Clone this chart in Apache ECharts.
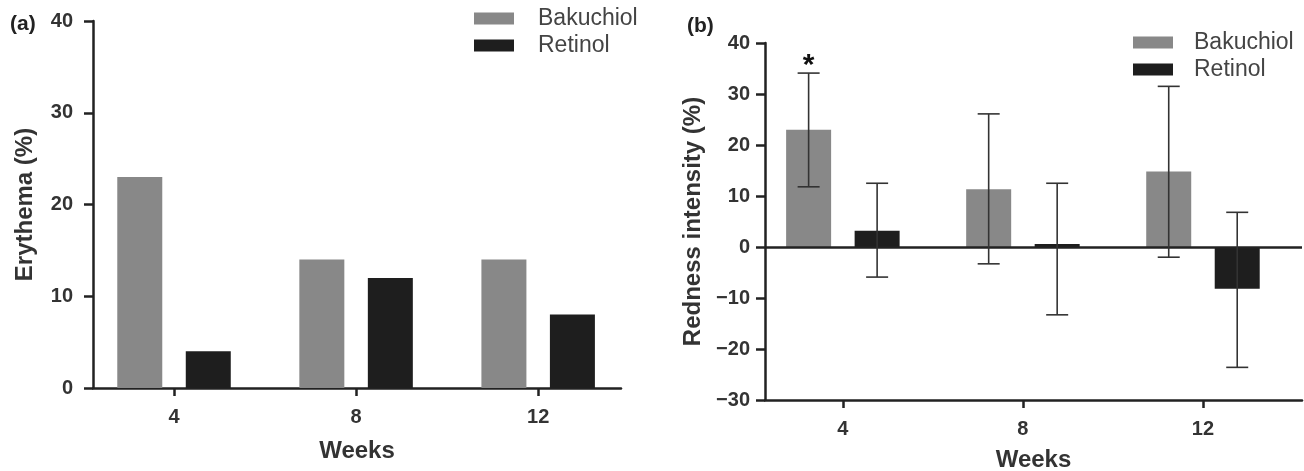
<!DOCTYPE html>
<html>
<head>
<meta charset="utf-8">
<script src="https://cdn.jsdelivr.net/npm/echarts@6/dist/echarts.min.js"></script>
<style>
  html, body { margin: 0; background: #fff; }
  #chart { width: 1304px; height: 471px; }
</style>
</head>
<body>
<div id="chart"></div>
<script>
const weeks = [4, 8, 12]
const names = ['Bakuchiol', 'Retinol']

// (a) erythema, % of subjects
const erythemaBak = [23, 14, 14]
const erythemaRet = [4, 12, 8]

// (b) redness intensity, mean and error bar ends
const rednessBak = [23, 11.3, 14.8]
const rednessBakLow = [11.8, -3.3, -2.0]
const rednessBakHigh = [34.1, 26.1, 31.5]
const rednessRet = [3.2, 0.6, -8.2]
const rednessRetLow = [-5.9, -13.3, -23.6]
const rednessRetHigh = [12.5, 12.5, 6.8]
const rednessSig = ['*', '', '']

const font = "'Liberation Sans', Arial, sans-serif"
const axisColor = '#222'
const gray = '#888888'
const black = '#1e1e1e'
const barW = 45
const barGapPx = 23.5
const off = (barW + barGapPx) / 2

const chart = echarts.init(document.getElementById('chart'))

const xAxisBase = (grid, min, max, nameGap) => ({
  type: 'value',
  gridIndex: grid,
  min: min,
  max: max,
  name: 'Weeks',
  nameLocation: 'middle',
  nameGap: nameGap,
  nameTextStyle: { fontFamily: font, fontWeight: 'bold', fontSize: 24, color: '#333' },
  splitLine: { show: false },
  axisLine: { onZero: false, lineStyle: { color: axisColor, width: 2.5 } },
  axisTick: { customValues: weeks, length: 8, lineStyle: { color: axisColor, width: 2.5 } },
  axisLabel: { customValues: weeks, margin: 19, fontFamily: font, fontWeight: 'bold', fontSize: 20, color: '#333' },
})

const yAxisBase = (grid, min, max, name, nameGap, margin) => ({
  type: 'value',
  gridIndex: grid,
  min: min,
  max: max,
  interval: 10,
  name: name,
  nameLocation: 'middle',
  nameGap: nameGap,
  nameTextStyle: { fontFamily: font, fontWeight: 'bold', fontSize: 24, color: '#333' },
  splitLine: { show: false },
  axisLine: { show: true, onZero: false, lineStyle: { color: axisColor, width: 2.5 } },
  axisTick: { show: true, length: 9, lineStyle: { color: axisColor, width: 2.5 } },
  axisLabel: {
    margin: margin,
    fontFamily: font,
    fontWeight: 'bold',
    fontSize: 20,
    color: '#333',
    formatter: (v) => String(v).replace('-', '\u2212'),
  },
})

const bars = (grid, name, vals, color, extra) => Object.assign({
  type: 'bar',
  name: name,
  xAxisIndex: grid,
  yAxisIndex: grid,
  barWidth: barW,
  barGap: (barGapPx / barW * 100) + '%',
  itemStyle: { color: color },
  data: weeks.map((w, i) => [w, vals[i]]),
}, extra || {})

const errorBar = (grid, dx, low, high, sig) => ({
  type: 'custom',
  xAxisIndex: grid,
  yAxisIndex: grid,
  z: 5,
  silent: true,
  encode: { x: 0, y: [1, 2] },
  data: weeks.map((w, i) => [w, low[i], high[i]]),
  renderItem: (params, api) => {
    const lo = api.coord([api.value(0), api.value(1)])
    const hi = api.coord([api.value(0), api.value(2)])
    const x = lo[0] + dx
    const st = { stroke: '#333', lineWidth: 1.6 }
    const children = [
      { type: 'line', shape: { x1: x, y1: hi[1], x2: x, y2: lo[1] }, style: st },
      { type: 'line', shape: { x1: x - 11, y1: hi[1], x2: x + 11, y2: hi[1] }, style: st },
      { type: 'line', shape: { x1: x - 11, y1: lo[1], x2: x + 11, y2: lo[1] }, style: st },
    ]
    const mark = sig ? sig[params.dataIndex] : ''
    if (mark) {
      children.push({
        type: 'text',
        style: {
          text: mark, x: x, y: hi[1] - 7,
          align: 'center', verticalAlign: 'middle',
          font: 'bold 30px ' + font, fill: '#111',
        },
      })
    }
    return { type: 'group', children: children }
  },
})

const legendBase = (left, top, textPad) => ({
  data: names,
  left: left,
  top: top,
  orient: 'vertical',
  padding: 0,
  icon: 'rect',
  itemWidth: 40,
  itemHeight: 12,
  itemGap: 4,
  selectedMode: false,
  textStyle: { fontFamily: font, fontSize: 23, lineHeight: 23, color: '#444', padding: [0, 0, 0, textPad] },
})

const option = {
  backgroundColor: '#fff',
  animation: false,
  title: [
    { text: '(a)', left: 5, top: 9, textStyle: { fontFamily: font, fontWeight: 'bold', fontSize: 21, color: '#222' } },
    { text: '(b)', left: 682, top: 11, textStyle: { fontFamily: font, fontWeight: 'bold', fontSize: 21, color: '#222' } },
  ],
  legend: [legendBase(474, 7, 19), legendBase(1133, 31, 16)],
  grid: [
    { left: 93, right: 683, top: 21, bottom: 83, outerBoundsMode: 'none' },
    { left: 765, right: 2, top: 43, bottom: 71, outerBoundsMode: 'none' },
  ],
  xAxis: [
    xAxisBase(0, 2.22, 13.82, 51),
    xAxisBase(1, 2.27, 14.2, 48),
  ],
  yAxis: [
    yAxisBase(0, 0, 40, 'Erythema (%)', 56, 20),
    yAxisBase(1, -30, 40, 'Redness intensity (%)', 60, 15),
  ],
  series: [
    bars(0, names[0], erythemaBak, gray),
    bars(0, names[1], erythemaRet, black),
    bars(1, names[0], rednessBak, gray),
    bars(1, names[1], rednessRet, black, {
      markLine: {
        silent: true,
        symbol: 'none',
        label: { show: false },
        lineStyle: { color: axisColor, type: 'solid', width: 2.5 },
        data: [{ yAxis: 0 }],
      },
    }),
    errorBar(1, -off, rednessBakLow, rednessBakHigh, rednessSig),
    errorBar(1, off, rednessRetLow, rednessRetHigh),
  ],
}

chart.setOption(option)
</script>
</body>
</html>
